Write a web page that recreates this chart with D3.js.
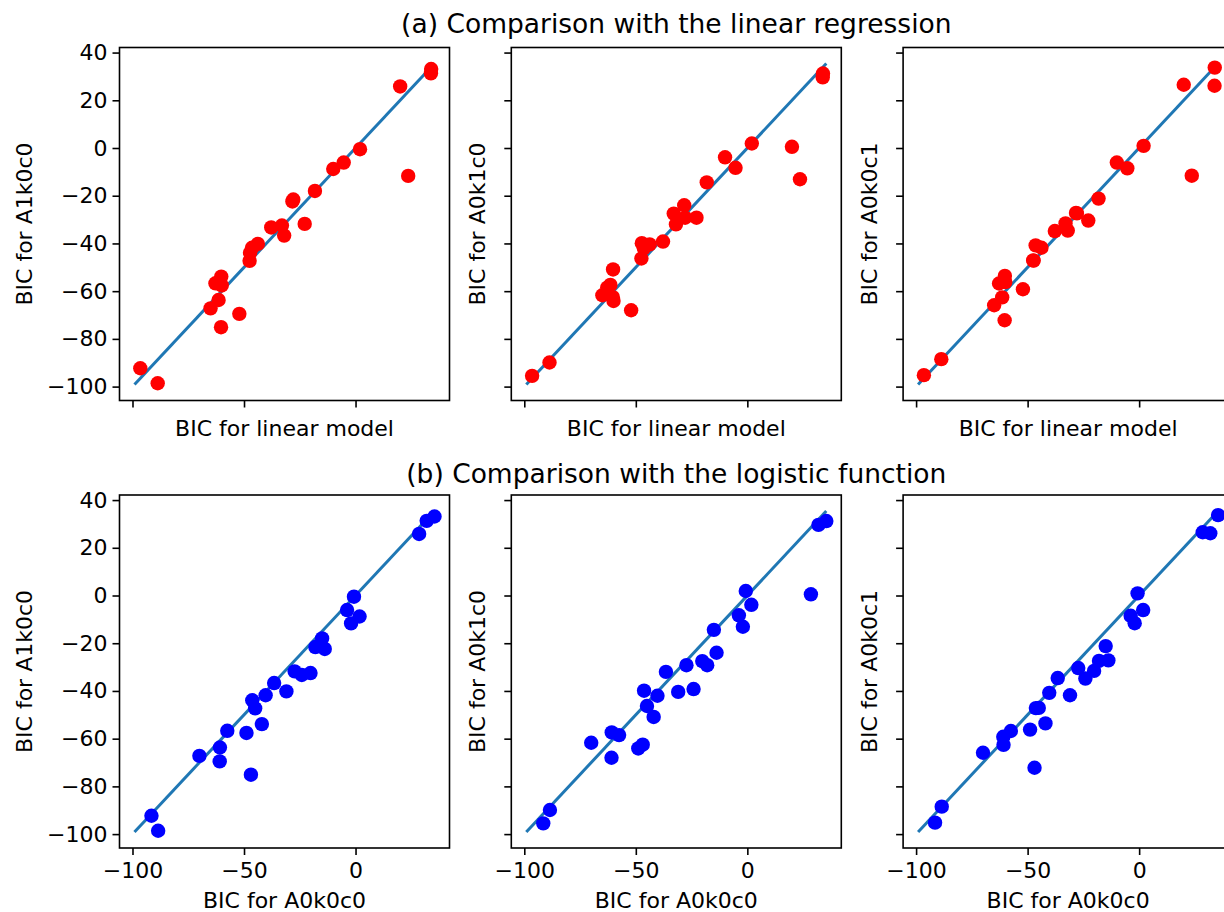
<!DOCTYPE html>
<html>
<head>
<meta charset="utf-8">
<script src="https://cdn.jsdelivr.net/npm/d3@7"></script>
<style>
    body { margin: 0; background: #fff; }
    text { font-family: "DejaVu Sans", sans-serif; fill: #000; }
</style>
</head>
<body>
<svg id="chart"></svg>
<script>
// BIC per model (27 models)
const bicLinear = [-96.5, -88.7, -65.0, -61.4, -60.3, -62.8, -60.2, -60.0, -52.1, -47.5, -47.3, -46.4, -43.8,
    -37.8, -33.0, -32.0, -28.3, -27.9, -22.8, -18.2, -10.0, -5.3, 2.0, 20.0, 23.6, 33.9, 33.8];
const bicA0k0c0 = [-91.5, -88.5, -70.0, -60.8, -46.9, -57.5, -42.0, -48.9, -60.9, -45.0, -46.3, -40.3, -31.0,
    -24.1, -20.2, -36.5, -13.8, -18.0, -27.3, -15.0, 1.8, -3.8, -0.7, 28.5, -2.0, 35.4, 31.9];
const bicA1k0c0 = [-92.3, -98.6, -67.2, -63.7, -75.1, -56.7, -53.9, -57.6, -69.5, -47.3, -43.9, -41.8, -40.2,
    -33.3, -32.5, -36.7, -22.4, -21.6, -31.8, -18.0, -8.8, -6.1, -0.5, 25.8, -11.7, 33.1, 31.3];
const bicA0k1c0 = [-95.5, -89.9, -61.7, -57.4, -62.5, -58.5, -50.9, -64.1, -68.0, -46.3, -39.9, -42.0, -40.4,
    -39.2, -27.5, -32.0, -24.0, -29.2, -29.2, -14.4, -3.9, -8.3, 1.9, 0.5, -13.1, 31.2, 29.6];
const bicA0k0c1 = [-95.2, -88.5, -65.9, -62.6, -72.2, -56.8, -53.6, -56.2, -59.2, -47.1, -47.2, -40.8, -41.8,
    -34.8, -31.6, -34.6, -27.2, -27.4, -30.4, -21.2, -6.1, -8.5, 0.9, 26.5, -11.6, 33.7, 26.1];

// identity line drawn in every panel
const refLine = [-99.1, 35.4];
const ticksX = [-100, -50, 0];
const ticksY = [-100, -80, -60, -40, -20, 0, 20, 40];

const rowTitles = ["(a) Comparison with the linear regression", "(b) Comparison with the logistic function"];
const rowXLabels = ["BIC for linear model", "BIC for A0k0c0"];
const rowX = [bicLinear, bicA0k0c0];
const rowColors = ["#ff0000", "#0000ff"];
const colYLabels = ["BIC for A1k0c0", "BIC for A0k1c0", "BIC for A0k0c1"];
const colY = [bicA1k0c0, bicA0k1c0, bicA0k0c1];

const width = 1224, height = 912;
const panel = { left: 119.5, top: [47.5, 495], w: 330, h: 353, step: 391.8 };

// 5% padding like matplotlib autoscale
const lo = refLine[0], hi = refLine[1], pad = (hi - lo) * 0.05;
const domain = [lo - pad, hi + pad];

const svg = d3.select("#chart").attr("width", width).attr("height", height);

rowTitles.forEach((title, r) => {
    svg.append("text")
        .attr("x", panel.left + (panel.step * 2 + panel.w) / 2)
        .attr("y", panel.top[r] - (r === 0 ? 15 : 12))
        .attr("text-anchor", "middle")
        .attr("font-size", "26.5px")
        .text(title);

    colY.forEach((yData, c) => {
        const g = svg.append("g")
            .attr("transform", `translate(${panel.left + c * panel.step}, ${panel.top[r]})`);

        const x = d3.scaleLinear().domain(domain).range([0, panel.w]);
        const y = d3.scaleLinear().domain(domain).range([panel.h, 0]);

        const line = d3.line().x(d => x(d)).y(d => y(d));
        g.append("path")
            .attr("d", line(refLine))
            .attr("fill", "none")
            .attr("stroke", "#1f77b4")
            .attr("stroke-width", 3);

        g.append("g").selectAll("circle")
            .data(rowX[r].map((v, i) => [v, yData[i]]))
            .join("circle")
            .attr("cx", d => x(d[0]))
            .attr("cy", d => y(d[1]))
            .attr("r", 7.2)
            .attr("fill", rowColors[r]);

        const xAxis = g.append("g")
            .attr("transform", `translate(0, ${panel.h})`)
            .call(d3.axisBottom(x).tickValues(ticksX).tickSize(7).tickPadding(7)
                .tickFormat(r === 1 ? d3.format("") : ""));
        const yAxis = g.append("g")
            .call(d3.axisLeft(y).tickValues(ticksY).tickSize(7).tickPadding(5)
                .tickFormat(c === 0 ? d3.format("") : ""));

        [xAxis, yAxis].forEach(a => {
            a.select(".domain").remove();
            a.selectAll("line").attr("stroke", "#000").attr("stroke-width", 1.6);
            a.selectAll("text").attr("font-size", "22px").attr("font-family", "DejaVu Sans");
        });

        g.append("rect")
            .attr("width", panel.w).attr("height", panel.h)
            .attr("fill", "none").attr("stroke", "#000").attr("stroke-width", 1.6);

        g.append("text")
            .attr("x", panel.w / 2)
            .attr("y", panel.h + (r === 1 ? 60 : 35))
            .attr("text-anchor", "middle")
            .attr("font-size", "22px")
            .text(rowXLabels[r]);

        g.append("text")
            .attr("transform", `translate(${c === 0 ? -88 : -26}, ${panel.h / 2}) rotate(-90)`)
            .attr("text-anchor", "middle")
            .attr("font-size", "22px")
            .text(colYLabels[c]);
    });
});
</script>
</body>
</html>
